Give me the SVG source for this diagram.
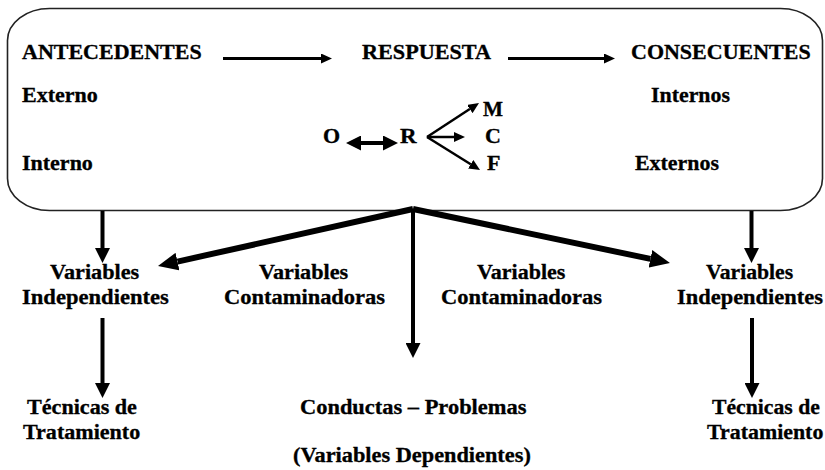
<svg xmlns="http://www.w3.org/2000/svg" width="825" height="470" viewBox="0 0 825 470">
<defs>
<style>
.t text{fill:#000;stroke:#000;stroke-width:0.3}
.box{fill:#fff;stroke:#222;stroke-width:1.6}
.a{stroke:#000;fill:none;stroke-linecap:butt}
</style>
<marker id="hs" markerUnits="userSpaceOnUse" viewBox="0 0 11 10" refX="0" refY="5" markerWidth="11" markerHeight="10" orient="auto-start-reverse"><path d="M0,0 L11,5 L0,10 z" fill="#000"/></marker>
<marker id="hm" markerUnits="userSpaceOnUse" viewBox="0 0 15 15" refX="0" refY="7.5" markerWidth="15" markerHeight="15" orient="auto-start-reverse"><path d="M0,0 L15,7.5 L0,15 z" fill="#000"/></marker>
<marker id="hl" markerUnits="userSpaceOnUse" viewBox="0 0 20 18" refX="0" refY="9" markerWidth="20" markerHeight="18" orient="auto"><path d="M0,0 L20,9 L0,18 z" fill="#000"/></marker>
</defs>
<rect width="825" height="470" fill="#fff"/>
<g id="marco"><rect class="box" x="7.5" y="8.5" width="815" height="202" rx="42" ry="32"/></g>
<g id="connectors">
<line class="a" x1="223" y1="58.5" x2="321" y2="58.5" stroke-width="3" marker-end="url(#hs)"/>
<line class="a" x1="508" y1="58.5" x2="604" y2="58.5" stroke-width="3" marker-end="url(#hs)"/>
<line class="a" x1="361" y1="143" x2="383" y2="143" stroke-width="4" marker-start="url(#hm)" marker-end="url(#hm)"/>
<line class="a" x1="427" y1="137" x2="469.8" y2="109" stroke-width="2.5" marker-end="url(#hs)"/>
<line class="a" x1="427" y1="137" x2="454" y2="137" stroke-width="2.5" marker-end="url(#hs)"/>
<line class="a" x1="427" y1="137" x2="470.7" y2="164.2" stroke-width="2.5" marker-end="url(#hs)"/>
<line class="a" x1="102.5" y1="211" x2="102.5" y2="248" stroke-width="4" marker-end="url(#hm)"/>
<line class="a" x1="751.5" y1="211" x2="751.5" y2="248" stroke-width="4" marker-end="url(#hm)"/>
<line class="a" x1="413" y1="209" x2="413" y2="343" stroke-width="4" marker-end="url(#hm)"/>
<line class="a" x1="413" y1="209" x2="177.5" y2="261.6" stroke-width="6" marker-end="url(#hl)"/>
<line class="a" x1="413" y1="209" x2="650.4" y2="258.9" stroke-width="6" marker-end="url(#hl)"/>
<line class="a" x1="102.5" y1="318" x2="102.5" y2="383" stroke-width="4" marker-end="url(#hm)"/>
<line class="a" x1="752" y1="318" x2="752" y2="383" stroke-width="4" marker-end="url(#hm)"/>
</g>
<g class="t" font-family="Liberation Serif, Times New Roman, serif" font-weight="bold" font-size="20">
<g id="antecedentes">
<text transform="translate(22,59) scale(1.10,1)">ANTECEDENTES</text>
<text transform="translate(22,102) scale(1.10,1)">Externo</text>
<text transform="translate(22,170) scale(1.10,1)">Interno</text>
</g>
<g id="respuesta">
<text transform="translate(362,59) scale(1.11,1)">RESPUESTA</text>
<text transform="translate(323,143) scale(1.1,1)">O</text>
<text transform="translate(400,143) scale(1.15,1)">R</text>
<text transform="translate(483,116) scale(1.06,1)">M</text>
<text transform="translate(485,143) scale(1.1,1)">C</text>
<text transform="translate(487,170) scale(1.1,1)">F</text>
</g>
<g id="consecuentes">
<text transform="translate(631,59) scale(1.10,1)">CONSECUENTES</text>
<text transform="translate(651,102) scale(1.094,1)">Internos</text>
<text transform="translate(635,170) scale(1.096,1)">Externos</text>
</g>
<g id="vi-izq">
<text transform="translate(50,279) scale(1.11,1)">Variables</text>
<text transform="translate(22,304) scale(1.13,1)">Independientes</text>
</g>
<g id="vc-1">
<text transform="translate(259,279) scale(1.11,1)">Variables</text>
<text transform="translate(224,304) scale(1.124,1)">Contaminadoras</text>
</g>
<g id="vc-2">
<text transform="translate(477,279) scale(1.10,1)">Variables</text>
<text transform="translate(441,304) scale(1.124,1)">Contaminadoras</text>
</g>
<g id="vi-der">
<text transform="translate(706,279) scale(1.085,1)">Variables</text>
<text transform="translate(677,304) scale(1.123,1)">Independientes</text>
</g>
<g id="tt-izq">
<text transform="translate(27,413.5) scale(1.106,1)">Técnicas de</text>
<text transform="translate(23,438.5) scale(1.104,1)">Tratamiento</text>
</g>
<g id="conductas">
<text transform="translate(300,413.5) scale(1.122,1)">Conductas – Problemas</text>
<text transform="translate(293,462) scale(1.116,1)">(Variables Dependientes)</text>
</g>
<g id="tt-der">
<text transform="translate(712,413.5) scale(1.086,1)">Técnicas de</text>
<text transform="translate(707,438.5) scale(1.095,1)">Tratamiento</text>
</g>
</g>
</svg>
